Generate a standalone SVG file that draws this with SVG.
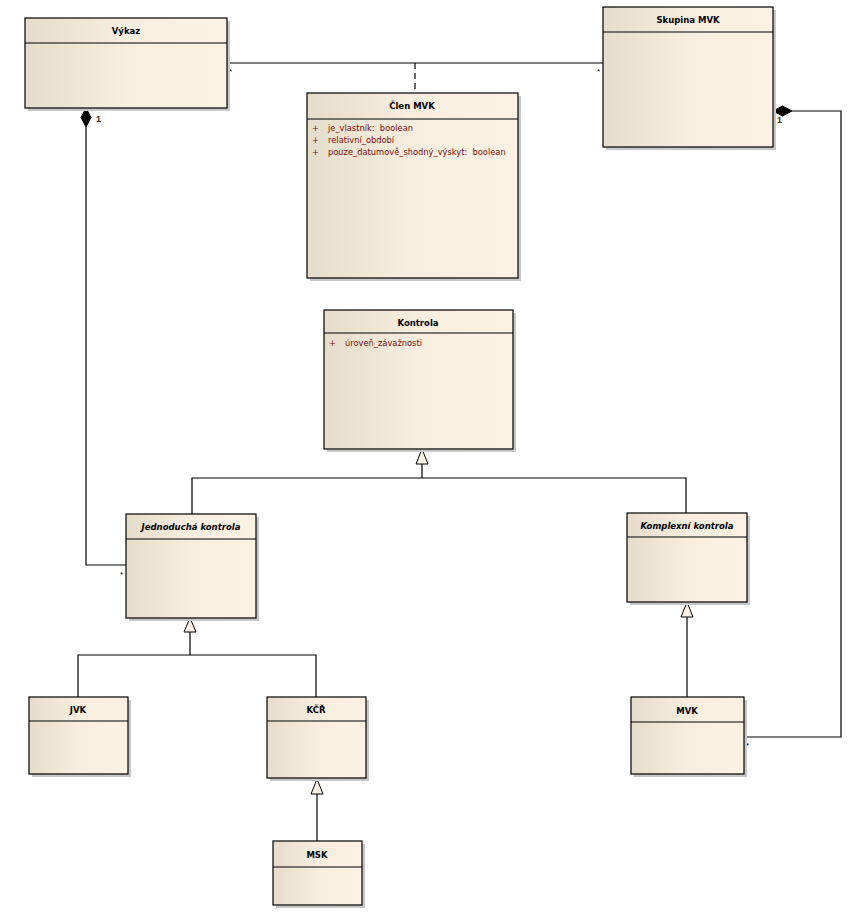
<svg xmlns="http://www.w3.org/2000/svg" width="862" height="913" viewBox="0 0 862 913">
<defs>
<linearGradient id="g" x1="0" y1="0" x2="1" y2="0">
<stop offset="0" stop-color="#E6DCCB"/>
<stop offset="0.5" stop-color="#F7EEDF"/>
<stop offset="1" stop-color="#FBF2E4"/>
</linearGradient>
<style>
.sh{fill:#c8c8c8}
.box{fill:url(#g);stroke:#000;stroke-width:1.2}
.sep{stroke:#000;stroke-width:1.2}
.t{font-family:"DejaVu Sans","Liberation Sans",sans-serif;font-size:8.5px;font-weight:bold;fill:#000;text-anchor:middle}
.ti{font-style:italic}
.a{font-family:"DejaVu Sans","Liberation Sans",sans-serif;font-size:8.3px;fill:#7A0A0A;white-space:pre}
.m{font-family:"Liberation Sans",sans-serif;font-size:8px;fill:#000}
.n{font-family:"Liberation Sans",sans-serif;font-size:9px;font-weight:bold;fill:#5A2A0A}
.c{fill:none;stroke:#000;stroke-width:1.2}
.gen{fill:#FBF3E6;stroke:#000;stroke-width:1}
.comp{fill:#000;stroke:#000;stroke-width:1}
</style>
</defs>
<rect width="862" height="913" fill="#fff"/>

<g id="connectors">
<path class="c" d="M227,63 H603"/>
<path class="c" d="M415,63 V93" stroke-dasharray="6,4"/>
<text class="m" x="229" y="74">*</text>
<text class="m" x="597" y="74">*</text>
<path class="c" d="M86,127 V565 H126"/>
<polygon class="comp" points="86,108 91,117.5 86,127 81,117.5"/>
<text class="n" x="96" y="122">1</text>
<text class="m" x="120" y="577">*</text>
<path class="c" d="M792,111 H841 V737 H744"/>
<polygon class="comp" points="773,111 782.5,106 792,111 782.5,116"/>
<text class="n" x="777" y="123">1</text>
<text class="m" x="746" y="748">*</text>
<path class="c" d="M422,464 V478 M192,514 V478 H686 V513"/>
<polygon class="gen" points="422,449 428,464 416,464"/>
<path class="c" d="M190,632 V655 M78,697 V655 H316 V697"/>
<polygon class="gen" points="190,618 196,632 184,632"/>
<path class="c" d="M687,617 V697"/>
<polygon class="gen" points="687,602 693,617 681,617"/>
<path class="c" d="M317,794 V841"/>
<polygon class="gen" points="317,779 323,794 311,794"/>
</g>

<g id="vykaz">
<rect class="sh" x="28" y="21" width="202" height="90"/>
<rect class="box" x="25" y="18" width="202" height="90"/>
<line class="sep" x1="25" y1="43" x2="227" y2="43"/>
<text class="t" x="126" y="34">Výkaz</text>
</g>

<g id="skupina-mvk">
<rect class="sh" x="606" y="10" width="170" height="140"/>
<rect class="box" x="603" y="7" width="170" height="140"/>
<line class="sep" x1="603" y1="32" x2="773" y2="32"/>
<text class="t" x="688" y="23">Skupina MVK</text>
</g>

<g id="clen-mvk">
<rect class="sh" x="310" y="96" width="211" height="185"/>
<rect class="box" x="307" y="93" width="211" height="185"/>
<line class="sep" x1="307" y1="119" x2="518" y2="119"/>
<text class="t" x="412" y="109">Člen MVK</text>
<text class="a" x="312" y="131">+</text><text class="a" x="328" y="131">je_vlastník:  boolean</text>
<text class="a" x="312" y="143">+</text><text class="a" x="328" y="143">relativní_období</text>
<text class="a" x="312" y="155">+</text><text class="a" x="328" y="155">pouze_datumově_shodný_výskyt:  boolean</text>
</g>

<g id="kontrola">
<rect class="sh" x="327" y="313" width="189" height="139"/>
<rect class="box" x="324" y="310" width="189" height="139"/>
<line class="sep" x1="324" y1="333" x2="513" y2="333"/>
<text class="t" x="418" y="326">Kontrola</text>
<text class="a" x="329" y="346">+</text><text class="a" x="345" y="346">úroveň_závažnosti</text>
</g>

<g id="jednoducha-kontrola">
<rect class="sh" x="129" y="517" width="130" height="104"/>
<rect class="box" x="126" y="514" width="130" height="104"/>
<line class="sep" x1="126" y1="539" x2="256" y2="539"/>
<text class="t ti" x="191" y="530">Jednoduchá kontrola</text>
</g>

<g id="komplexni-kontrola">
<rect class="sh" x="630" y="516" width="120" height="89"/>
<rect class="box" x="627" y="513" width="120" height="89"/>
<line class="sep" x1="627" y1="537" x2="747" y2="537"/>
<text class="t ti" x="687" y="529">Komplexní kontrola</text>
</g>

<g id="jvk">
<rect class="sh" x="32" y="700" width="99" height="77"/>
<rect class="box" x="29" y="697" width="99" height="77"/>
<line class="sep" x1="29" y1="721" x2="128" y2="721"/>
<text class="t" x="78" y="713">JVK</text>
</g>

<g id="kcr">
<rect class="sh" x="270" y="700" width="99" height="81"/>
<rect class="box" x="267" y="697" width="99" height="81"/>
<line class="sep" x1="267" y1="721" x2="366" y2="721"/>
<text class="t" x="316" y="713">KČŘ</text>
</g>

<g id="mvk">
<rect class="sh" x="634" y="700" width="113" height="77"/>
<rect class="box" x="631" y="697" width="113" height="77"/>
<line class="sep" x1="631" y1="722" x2="744" y2="722"/>
<text class="t" x="687" y="714">MVK</text>
</g>

<g id="msk">
<rect class="sh" x="276" y="844" width="89" height="64"/>
<rect class="box" x="273" y="841" width="89" height="64"/>
<line class="sep" x1="273" y1="867" x2="362" y2="867"/>
<text class="t" x="317" y="858">MSK</text>
</g>
</svg>
